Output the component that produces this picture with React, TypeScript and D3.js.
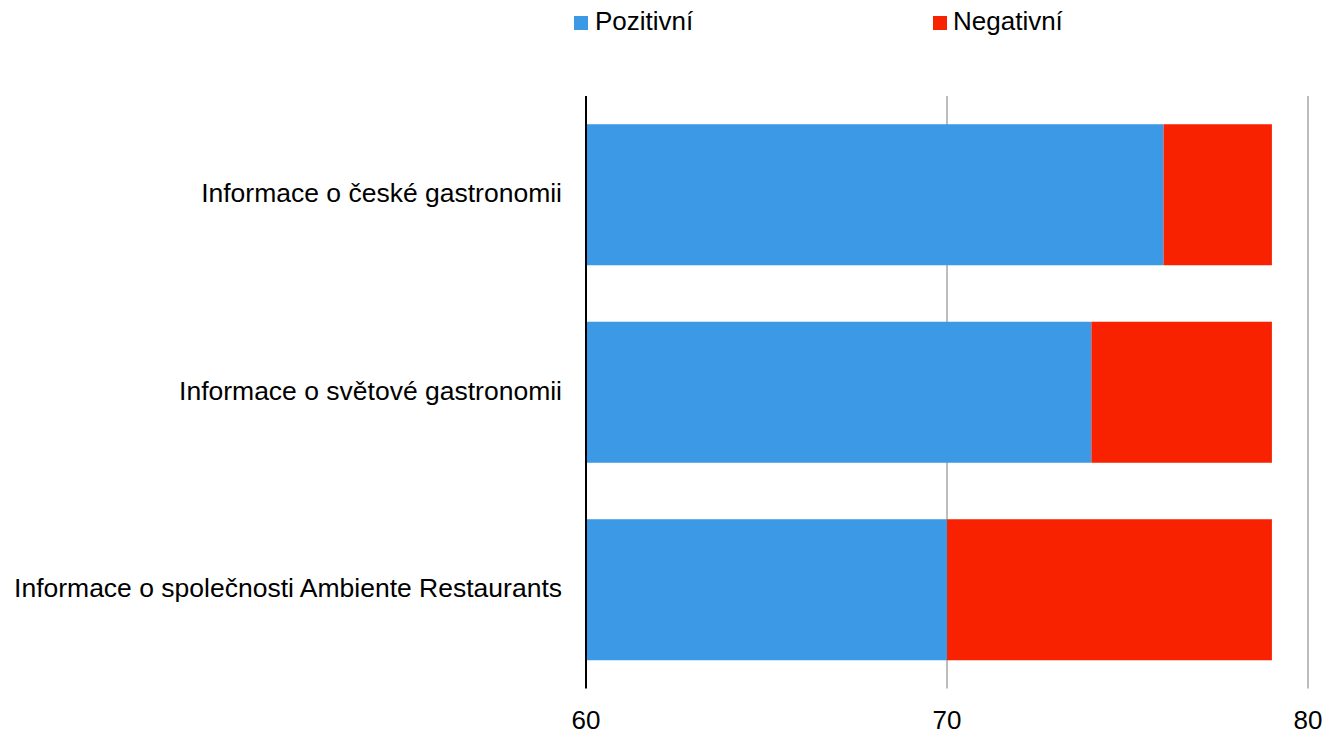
import React from "react";
import * as d3 from "d3";

const categories = [
  "Informace o české gastronomii",
  "Informace o světové gastronomii",
  "Informace o společnosti Ambiente Restaurants",
];
const positive = [76, 74, 70];
const negative = [3, 5, 9];
const seriesNames = ["Pozitivní", "Negativní"];
const xTicks = [60, 70, 80];

const WIDTH = 1325;
const HEIGHT = 733;
const COLORS = ["#3c99e6", "#f82200"];
const FONT = "'Liberation Sans', Arial, sans-serif";

export default function App() {
  const plotTop = 96;
  const plotBottom = 688.5;
  const x = d3.scaleLinear().domain([60, 80]).range([586, 1308]);
  const y = d3
    .scaleBand<string>()
    .domain(categories)
    .range([plotTop, plotBottom])
    .paddingInner(0.286)
    .paddingOuter(0.143);

  const rows = categories.map((c, i) => ({
    cat: c,
    pos: positive[i],
    neg: negative[i],
  }));
  const stack = d3
    .stack<{ cat: string; pos: number; neg: number }>()
    .keys(["pos", "neg"]);
  const stacked = stack(rows);

  const legend = [
    { name: seriesNames[0], color: COLORS[0], sx: 574, tx: 595 },
    { name: seriesNames[1], color: COLORS[1], sx: 933, tx: 953 },
  ];

  return (
    <div style={{ position: "fixed", left: 0, top: 0 }}>
      <svg width={WIDTH} height={HEIGHT} style={{ display: "block", background: "#fff" }}>
        {/* legend */}
        {legend.map((l) => (
          <g key={l.name}>
            <rect x={l.sx} y={16} width={14} height={14} fill={l.color} />
            <text x={l.tx} y={29.5} fontFamily={FONT} fontSize={26} fill="#000">
              {l.name}
            </text>
          </g>
        ))}

        {/* vertical gridlines */}
        {xTicks.slice(1).map((t) => (
          <line
            key={t}
            x1={x(t)}
            x2={x(t)}
            y1={plotTop}
            y2={plotBottom}
            stroke="#bdbdbd"
            strokeWidth={2}
          />
        ))}

        {/* stacked bars */}
        {stacked.map((s, si) =>
          s.map((d) => (
            <rect
              key={`${si}-${d.data.cat}`}
              x={x(Math.max(60, d[0]))}
              y={y(d.data.cat)}
              width={x(d[1]) - x(Math.max(60, d[0]))}
              height={y.bandwidth()}
              fill={COLORS[si]}
            />
          ))
        )}

        {/* baseline axis */}
        <line x1={x(60)} x2={x(60)} y1={plotTop} y2={plotBottom} stroke="#000" strokeWidth={2} />

        {/* category labels */}
        {categories.map((c) => (
          <text
            key={c}
            x={562}
            y={(y(c) ?? 0) + y.bandwidth() / 2 + 7.5}
            textAnchor="end"
            fontFamily={FONT}
            fontSize={26.5}
            fill="#000"
          >
            {c}
          </text>
        ))}

        {/* x tick labels */}
        {xTicks.map((t) => (
          <text
            key={t}
            x={x(t)}
            y={728.5}
            textAnchor="middle"
            fontFamily={FONT}
            fontSize={26}
            fill="#000"
          >
            {t}
          </text>
        ))}
      </svg>
    </div>
  );
}
